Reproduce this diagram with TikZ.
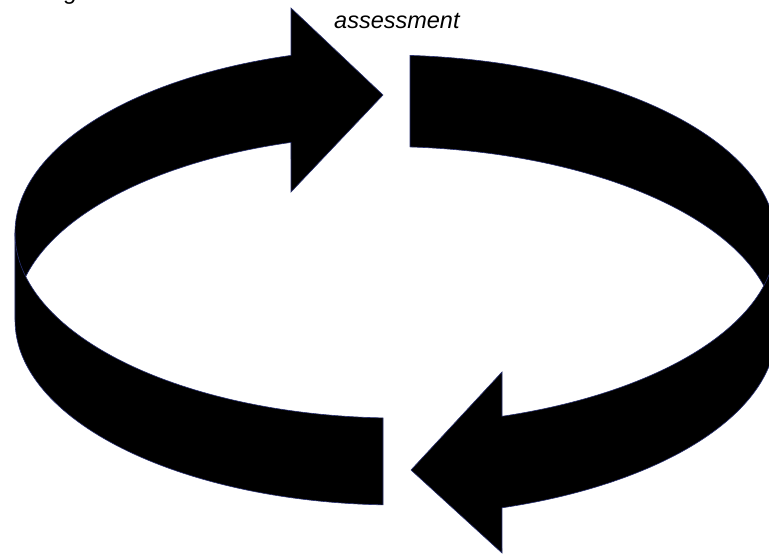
\documentclass[tikz,border=0pt]{standalone}
\usepackage{fontspec}
\setmainfont{Liberation Sans}
\usepackage{tikz}

\definecolor{bandedge}{RGB}{40,48,112}

\begin{document}
\begin{tikzpicture}[
    x=1pt, y=-1pt,
    bandfill/.style={fill=black, draw=bandedge, line width=0.6pt, line join=miter},
    bandline/.style={draw=bandedge, line width=0.6pt},
    caption/.style={font=\fontsize{23.5}{28}\selectfont\itshape, inner sep=0pt}
]
\clip (0,0) rectangle (769,554);

% Labels at the top
\node[caption, anchor=base east] (topword) at (78,-1) {g};
\node[caption, anchor=base west] (assess) at (334,28) {assessment};

% Left arrow: front tail, around the left side, head on the back
\fill[bandfill] (291,55.4)
    arc[start angle=253.78, end angle=180, x radius=383, y radius=185]
    -- (15,320)
    arc[start angle=180, end angle=92.24, x radius=383, y radius=185]
    -- (383,417.9)
    arc[start angle=92.24, end angle=166.4, x radius=383, y radius=185]
    arc[start angle=193.6, end angle=253.78, x radius=383, y radius=185]
    -- (291,192) -- (383,95) -- (291,8) -- cycle;
\draw[bandline] (25.7,276.5)
    arc[start angle=166.4, end angle=180, x radius=383, y radius=185];

% Right arrow: back tail, around the right side, head on the front
\fill[bandfill] (410,55.4)
    arc[start angle=273.94, end angle=360, x radius=393, y radius=185]
    -- (776,331.5)
    arc[start angle=0, end angle=72.38, x radius=393, y radius=185]
    -- (502,553) -- (411,470) -- (502,372) -- (502,416.3)
    arc[start angle=72.38, end angle=14.32, x radius=393, y radius=185]
    arc[start angle=345.68, end angle=273.94, x radius=393, y radius=185]
    -- cycle;
\draw[bandline] (763.8,285.75)
    arc[start angle=14.32, end angle=0, x radius=393, y radius=185];

\end{tikzpicture}
\end{document}
